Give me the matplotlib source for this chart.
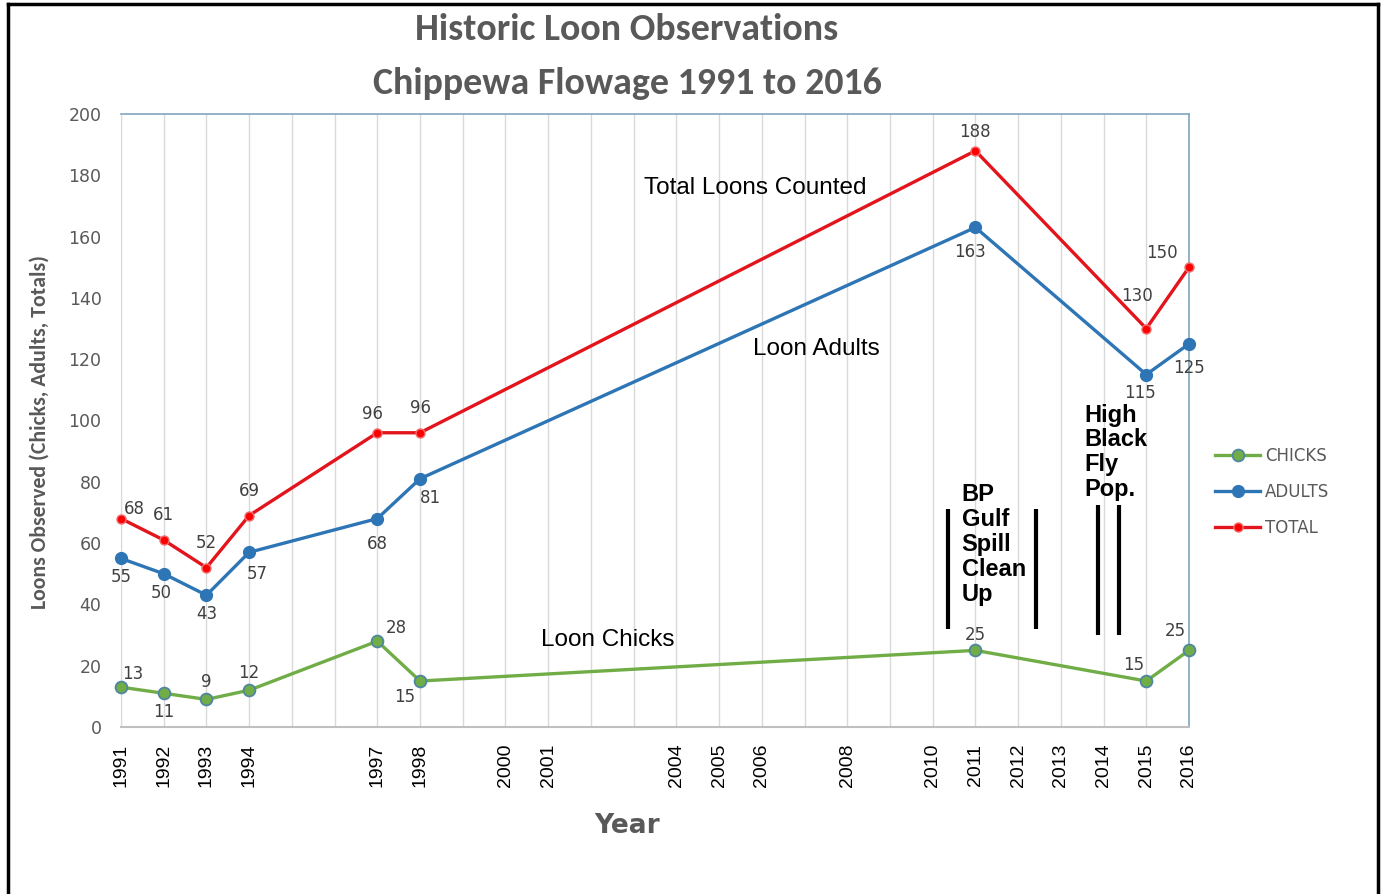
import matplotlib
matplotlib.use("Agg")
import matplotlib.pyplot as plt
from matplotlib.lines import Line2D

# data
years = [1991, 1992, 1993, 1994, 1997, 1998, 2011, 2015, 2016]
chicks = [13, 11, 9, 12, 28, 15, 25, 15, 25]
adults = [55, 50, 43, 57, 68, 81, 163, 115, 125]
total = [68, 61, 52, 69, 96, 96, 188, 130, 150]
labelled_years = [1991, 1992, 1993, 1994, 1997, 1998, 2000, 2001, 2004, 2005,
                  2006, 2008, 2010, 2011, 2012, 2013, 2014, 2015, 2016]

# label offsets in pixels (dx, dy up)
total_off = [(13, 10), (0, 25), (0, 25), (0, 25), (-5, 19), (0, 25), (0, 19), (-9, 33), (-27, 14)]
adults_off = [(0, -19), (-2, -19), (0, -19), (8, -22), (0, -25), (10, -19), (-5, -25), (-6, -18), (0, -24)]
chicks_off = [(12, 13), (0, -19), (0, 17), (0, 17), (19, 13), (-15, -16), (0, 15), (-13, 16), (-14, 19)]

W, H = 1382, 894
fig = plt.figure(figsize=(W / 100, H / 100), dpi=100)
ax = fig.add_axes([121 / W, 1 - 727 / H, (1189 - 121) / W, (727 - 114) / H])

GREEN = "#70ad47"
BLUE = "#2e75b6"
RED = "#e3141c"
GRAY = "#595959"
NARROW = ["Carlito", "Lato", "DejaVu Sans"]

ax.plot(years, chicks, color=GREEN, lw=2.4, marker="o", ms=8.5, mfc=GREEN,
        mec="#4f86a0", mew=1.3, clip_on=False, zorder=3, label="CHICKS")
ax.plot(years, adults, color=BLUE, lw=2.4, marker="o", ms=8.5, mfc=BLUE,
        mec=BLUE, clip_on=False, zorder=3, label="ADULTS")
ax.plot(years, total, color=RED, lw=2.4, marker="o", ms=6.5, mfc="#ff0000",
        mec="#f07070", mew=1.0, clip_on=False, zorder=3, label="TOTAL")

for ys, offs in [(total, total_off), (adults, adults_off), (chicks, chicks_off)]:
    for x, y, (dx, dy) in zip(years, ys, offs):
        ax.annotate(str(y), (x, y), xytext=(dx * 0.72, dy * 0.72), textcoords="offset points",
                    ha="center", va="center", fontsize=12, color="#404040",
                    family="DejaVu Sans", annotation_clip=False)

ax.set_xlim(1991, 2016)
ax.set_ylim(0, 200)
ax.set_yticks(range(0, 201, 20))
ax.set_xticks(range(1991, 2017))
ax.set_xticklabels([str(y) if y in labelled_years else "" for y in range(1991, 2017)],
                   rotation=90, fontsize=14, family="Liberation Sans", color="black")
ax.tick_params(axis="x", length=0, pad=12)
ax.tick_params(axis="y", length=0, pad=14, labelsize=12.5, labelcolor=GRAY)
ax.grid(axis="x", color="#d9d9d9", lw=1)
ax.set_axisbelow(True)

for s in ["top", "right"]:
    ax.spines[s].set_color("#7fa7bf")
    ax.spines[s].set_linewidth(1.2)
ax.spines["bottom"].set_color("#bfbfbf")
ax.spines["bottom"].set_linewidth(1.5)
ax.spines["left"].set_color("#d9d9d9")

# series captions
cap = dict(fontsize=17.5, family="Liberation Sans", ha="center", va="center")
ax.text(2005.84, 175.9, "Total Loons Counted", **cap)
ax.text(2007.27, 123.3, "Loon Adults", **cap)
ax.text(2002.4, 28.4, "Loon Chicks", **cap)

# event markers
for x0, y0, y1 in [(2010.36, 32, 71), (2012.42, 32, 71), (2013.87, 30, 72.5), (2014.36, 30, 72.5)]:
    ax.plot([x0, x0], [y0, y1], color="black", lw=3, solid_capstyle="butt", zorder=4)
note = dict(fontsize=17, fontweight="bold", family="Liberation Sans", ha="left", va="top",
            linespacing=1.1)
ax.text(2010.68, 79.5, "BP\nGulf\nSpill\nClean\nUp", **note)
ax.text(2013.55, 105.5, "High\nBlack\nFly\nPop.", **note)

leg = ax.legend(loc="center left", bbox_to_anchor=((1215 - 121) / 1068, (727 - 492) / 613),
                frameon=False, borderaxespad=0, borderpad=0, handlelength=2.7,
                handletextpad=0.3, labelspacing=1.1, fontsize=12)
for t in leg.get_texts():
    t.set_color(GRAY)

fig.text(627 / W, 1 - 30 / H, "Historic Loon Observations", ha="center", va="center",
         fontsize=27.3, fontweight="bold", color=GRAY, family=NARROW)
fig.text(627 / W, 1 - 83 / H, "Chippewa Flowage 1991 to 2016", ha="center", va="center",
         fontsize=27.3, fontweight="bold", color=GRAY, family=NARROW)
fig.text(40 / W, 1 - 432 / H, "Loons Observed (Chicks, Adults, Totals)", rotation=90,
         ha="center", va="center", fontsize=15.7, fontweight="bold", color=GRAY, family=NARROW)
fig.text(627 / W, 1 - 826 / H, "Year", ha="center", va="center", fontsize=19,
         fontweight="bold", color=GRAY, family="DejaVu Sans")

# outer black frame
for xs, ys in [([8, 8], [4, H]), ([8, 1378], [4, 4]), ([1378, 1378], [4, H])]:
    fig.add_artist(Line2D([x / W for x in xs], [1 - y / H for y in ys], color="black", lw=2.5))

fig.savefig("out.png", dpi=100)
